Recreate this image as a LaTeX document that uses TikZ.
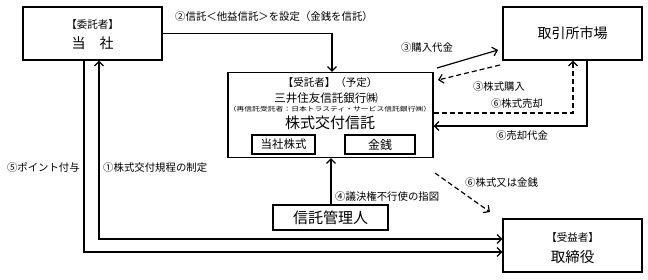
\documentclass[tikz,border=0pt]{standalone}
\usepackage{fontspec}
\setmainfont{Noto Sans CJK JP}
\usetikzlibrary{arrows.meta}
\newcommand\myfs[1]{\fontsize{#1}{#1}\selectfont}
\begin{document}
\begin{tikzpicture}[x=1pt,y=-1pt,
  box/.style={draw,line width=1.2pt,inner sep=0pt},
  ibox/.style={draw,line width=1.1pt,inner sep=0pt},
  txt/.style={inner sep=0pt,text=black},
  lbl/.style={inner sep=0pt,font=\myfs{10.4}},
  solidarr/.style={line width=1.2pt,-{Straight Barb[length=4.5pt,width=9pt,line width=1.2pt]}},
  dualarr/.style={line width=1.2pt,{Straight Barb[length=4.5pt,width=9pt,line width=1.2pt]}-{Straight Barb[length=4.5pt,width=9pt,line width=1.2pt]}},
  dasharr/.style={solidarr,dash pattern=on 5pt off 3pt},
  plainline/.style={line width=1.2pt}]
\useasboundingbox (0,0) rectangle (648,279);
% boxes
\node[box,minimum width=139pt,minimum height=53pt] (company) at (92.5,33.5) {};
\node[box,minimum width=139pt,minimum height=53pt] (market) at (572.5,33.5) {};
\node[box,minimum width=205pt,minimum height=85pt] (trust) at (330.5,115) {};
\node[ibox,minimum width=63pt,minimum height=19pt] (stock) at (283.5,144.5) {};
\node[ibox,minimum width=70pt,minimum height=19pt] (money) at (380,144.5) {};
\node[box,minimum width=115pt,minimum height=25pt] (manager) at (330.5,217.5) {};
\node[box,minimum width=139pt,minimum height=53pt] (director) at (572.5,245.5) {};
% texts in boxes
\node[txt,font=\myfs{10.5}] (companyrole) at (92.5,25) {【委託者】};
\node[txt,font=\myfs{14}] (companyname) at (92.5,43) {当　社};
\node[txt,font=\myfs{14}] (marketname) at (572.5,33) {取引所市場};
\node[txt,font=\myfs{10.5}] (trustrole) at (330,83) {【受託者】（予定）};
\node[txt,font=\myfs{11.5}] (trustbank) at (326,98) {三井住友信託銀行㈱};
\node[txt,font=\myfs{6.2}] (trustsub) at (330,109.5) {\scalebox{1.26}[1]{（再信託受託者：日本トラスティ・サービス信託銀行㈱）}};
\node[txt,font=\myfs{15}] (trustname) at (330,123) {株式交付信託};
\node[txt,font=\myfs{11.5}] (stocktxt) at (stock) {当社株式};
\node[txt,font=\myfs{12}] (moneytxt) at (money) {金銭};
\node[txt,font=\myfs{15}] (managertxt) at (manager) {信託管理人};
\node[txt,font=\myfs{10.5}] (directorrole) at (572.5,238) {【受益者】};
\node[txt,font=\myfs{14.5}] (directorname) at (572.5,257) {取締役};
% connectors
\coordinate (c2) at (332,33.5);
\draw[solidarr] (company.east |- c2) -- (c2) -- (c2 |- trust.north);
\node[lbl,anchor=west] (l2) at (175,17) {②信託＜他益信託＞を設定（金銭を信託）};

\coordinate (p3a) at (437,68);
\coordinate (p3b) at (498,50);
\draw[solidarr] (p3a) -- (p3b);
\node[lbl] (l3a) at (427,48) {③購入代金};
\coordinate (q3a) at (500,65);
\coordinate (q3b) at (438,80);
\draw[dasharr] (q3a) -- (q3b);
\node[lbl] (l3b) at (499,87) {③株式購入};

\coordinate (s6) at (573,113);
\draw[dasharr] (trust.east |- s6) -- (s6) -- (s6 |- market.south);
\node[lbl] (l6a) at (517,104) {⑥株式売却};
\coordinate (m6) at (587,126);
\draw[solidarr] (m6 |- market.south) -- (m6) -- (trust.east |- m6);
\node[lbl] (l6b) at (522,136) {⑥売却代金};

\coordinate (c4) at (331,0);
\draw[solidarr] (c4 |- manager.north) -- (c4 |- trust.south);
\node[lbl,anchor=west] (l4) at (335,197) {④議決権不行使の指図};

\coordinate (d6a) at (435,173);
\coordinate (d6b) at (490,212);
\draw[dasharr] (d6a) -- (d6b);
\node[lbl,anchor=west] (l6c) at (465,183) {⑥株式又は金銭};

\coordinate (o5) at (84,252);
\draw[solidarr] (o5 |- company.south) -- (o5) -- (director.west |- o5);
\node[lbl,anchor=east] (l5) at (80,168) {⑤ポイント付与};
\coordinate (i1) at (99,239);
\draw[dualarr] (i1 |- company.south) -- (i1) -- (director.west |- i1);
\node[lbl,anchor=west] (l1) at (103,168) {①株式交付規程の制定};
\end{tikzpicture}
\end{document}
